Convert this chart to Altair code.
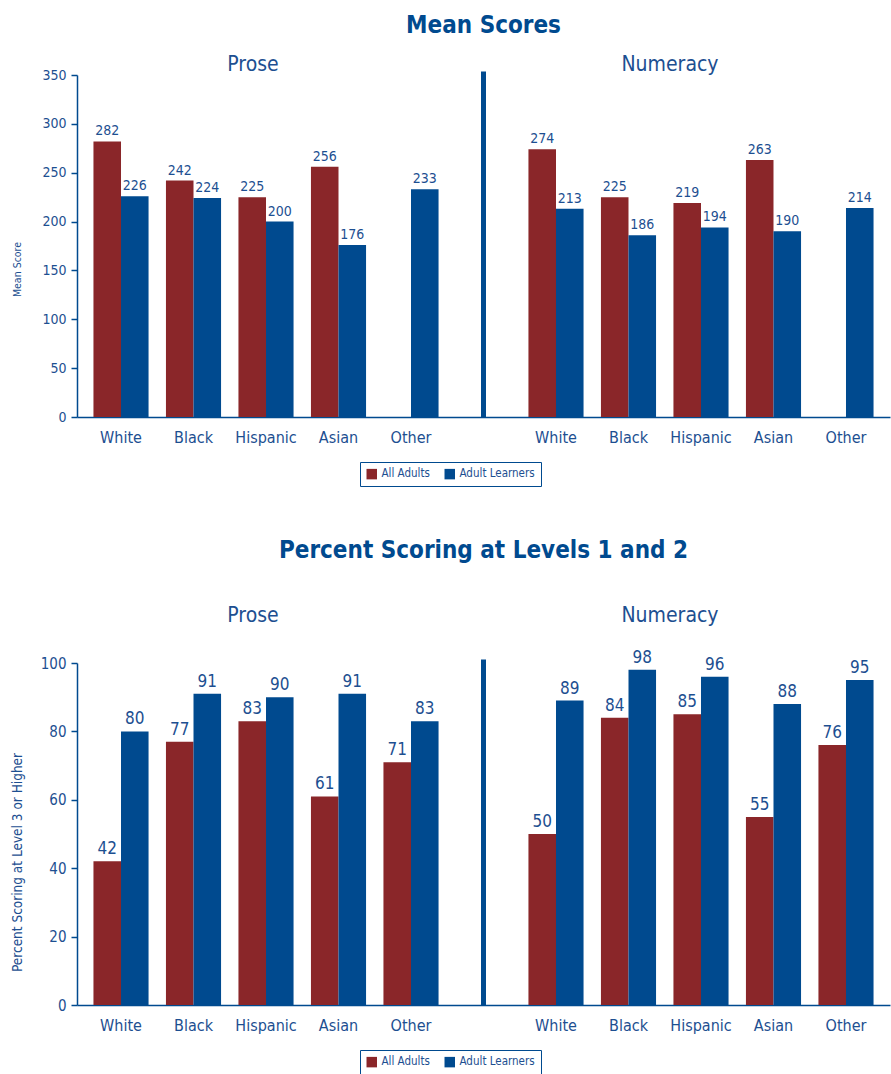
import altair as alt
import pandas as pd

groups = ["White", "Black", "Hispanic", "Asian", "Other"]
panels = ["Prose", "Numeracy"]
series = ["All Adults", "Adult Learners"]

mean_prose_all = [282, 242, 225, 256, None]
mean_prose_learners = [226, 224, 200, 176, 233]
mean_num_all = [274, 225, 219, 263, None]
mean_num_learners = [213, 186, 194, 190, 214]

pct_prose_all = [42, 77, 83, 61, 71]
pct_prose_learners = [80, 91, 90, 91, 83]
pct_num_all = [50, 84, 85, 55, 76]
pct_num_learners = [89, 98, 96, 88, 95]

mean_ticks = [0, 50, 100, 150, 200, 250, 300, 350]
pct_ticks = [0, 20, 40, 60, 80, 100]

RED = "#8a2629"
BLUE = "#004a8f"
TEXT = "#1d4f91"
FONT = "Liberation Sans Narrow, DejaVu Sans Condensed, Roboto, sans-serif"

DIV = "divider"
x_order = [f"Prose|{g}" for g in groups] + [DIV] + [f"Numeracy|{g}" for g in groups]


def build(values, ymax, yticks, ytitle, title, title_offset, tick_fs, val_fs,
          ytitle_fs, title_y, ptitle_y):
    rows = []
    for panel, (all_v, lrn_v) in zip(panels, values):
        for g, a, l in zip(groups, all_v, lrn_v):
            if a is not None:
                rows.append(dict(key=f"{panel}|{g}", series="All Adults", value=a))
            if l is not None:
                rows.append(dict(key=f"{panel}|{g}", series="Adult Learners", value=l))
    df = pd.DataFrame(rows)

    x = alt.X(
        "key:N",
        sort=x_order,
        scale=alt.Scale(domain=x_order, paddingInner=0.24, paddingOuter=0.227),
        axis=alt.Axis(
            title=None,
            labelExpr="datum.label == 'divider' ? '' : split(datum.label, '|')[1]",
            ticks=False,
            labelAngle=0,
            labelFontSize=16,
            labelPadding=12,
            labelColor=TEXT,
            labelFont=FONT,
            domainColor=BLUE,
            domainWidth=1.5,
        ),
    )
    y = alt.Y(
        "value:Q",
        scale=alt.Scale(domain=[0, ymax], nice=False),
        axis=alt.Axis(
            title=ytitle,
            values=yticks,
            grid=False,
            tickSize=6,
            tickColor=BLUE,
            tickWidth=1.5,
            domainColor=BLUE,
            domainWidth=1.5,
            labelFontSize=tick_fs,
            labelColor=TEXT,
            labelFont=FONT,
            labelPadding=5,
            titleFontSize=ytitle_fs,
            titleFontWeight="normal",
            titleColor=TEXT,
            titleFont=FONT,
            titleX=-60,
            titleY=title_y,
            titleAlign="center",
            titleBaseline="middle",
            titleAngle=270,
        ),
    )
    color = alt.Color(
        "series:N",
        sort=series,
        scale=alt.Scale(domain=series, range=[RED, BLUE]),
        legend=alt.Legend(
            title=None,
            orient="none",
            legendX=283,
            legendY=387,
            direction="horizontal",
            strokeColor=BLUE,
            padding=6,
            symbolType="square",
            symbolSize=110,
            symbolStrokeWidth=0,
            labelFontSize=11.5,
            labelColor=TEXT,
            labelFont=FONT,
            columnPadding=14,
        ),
    )
    xoff = alt.XOffset("series:N", sort=series, scale=alt.Scale(domain=series, paddingInner=0, paddingOuter=0))

    bars = alt.Chart(df).mark_bar().encode(x=x, y=y, color=color, xOffset=xoff)
    labels = alt.Chart(df).mark_text(
        baseline="bottom", dy=-3, fontSize=val_fs, color=TEXT, font=FONT
    ).encode(x=x, y=y, xOffset=xoff, text="value:Q")

    div_df = pd.DataFrame({"key": [DIV], "value": [0], "top": [ymax * 1.01]})
    divider = alt.Chart(div_df).mark_rule(strokeWidth=5, color=BLUE).encode(
        x=alt.X("key:N", sort=x_order), y="value:Q", y2="top:Q"
    )

    ptitle_l = alt.Chart(pd.DataFrame({"key": ["Prose|Hispanic"], "label": ["Prose"]})).mark_text(
        fontSize=21, color=TEXT, font=FONT, dx=-13, baseline="middle"
    ).encode(x=alt.X("key:N", sort=x_order), y=alt.value(ptitle_y), text="label:N")
    ptitle_r = alt.Chart(pd.DataFrame({"key": ["Numeracy|Hispanic"], "label": ["Numeracy"]})).mark_text(
        fontSize=21, color=TEXT, font=FONT, dx=-31, baseline="middle"
    ).encode(x=alt.X("key:N", sort=x_order), y=alt.value(ptitle_y), text="label:N")

    return alt.layer(bars, labels, divider, ptitle_l, ptitle_r).properties(
        width=813,
        height=342,
        title=alt.TitleParams(
            title, fontSize=24, fontWeight="bold", color=BLUE, font=FONT,
            anchor="middle", offset=title_offset,
        ),
    )


top = build(
    [(mean_prose_all, mean_prose_learners), (mean_num_all, mean_num_learners)],
    350, mean_ticks, "Mean Score", "Mean Scores", 16, 14, 14, 10.5, 194, -10,
)
bottom = build(
    [(pct_prose_all, pct_prose_learners), (pct_num_all, pct_num_learners)],
    100, pct_ticks, "Percent Scoring at Level 3 or Higher",
    "Percent Scoring at Levels 1 and 2", 42, 15, 17, 13.5, 199, -47,
)

chart = (
    alt.vconcat(top, bottom, spacing=52)
    .resolve_scale(color="independent")
    .properties(padding={"left": 10, "top": 14, "right": 1, "bottom": 5})
    .configure_view(stroke=None)
)

chart.save("out.html", embed_options={"renderer": "svg", "actions": False})
